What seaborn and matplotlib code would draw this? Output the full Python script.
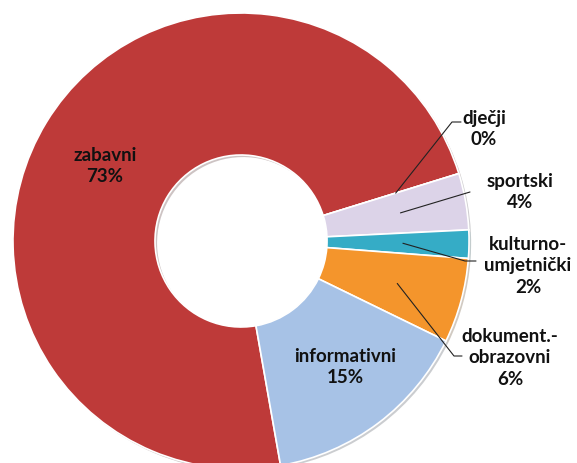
import numpy as np
import matplotlib
matplotlib.use("Agg")
import matplotlib.pyplot as plt
import matplotlib.patheffects as pe
import seaborn as sns

categories = ["zabavni", "dječji", "sportski", "kulturno-\numjetnički", "dokument.-\nobrazovni", "informativni"]
values = [73, 0, 4, 2, 6, 15]
pct_labels = ["73%", "0%", "4%", "2%", "6%", "15%"]
colors = ["#BE3A39", "#C9C3D6", "#DCD3E8", "#35ACC6", "#F4952C", "#A7C2E6"]
explode = [0.0, 0.04, 0.04, 0.04, 0.04, 0.045]

sns.set_theme(style="white")
plt.rcParams['font.family'] = ['Lato', 'DejaVu Sans']

fig = plt.figure(figsize=(5.77, 4.64), dpi=100)
ax = fig.add_axes([0, 0, 1, 1])

cx, cy, R = 241, 464 - 242, 228
hole = 86
wedges, _ = ax.pie(values, colors=colors, explode=explode, startangle=280,
                   counterclock=False, center=(cx, cy), radius=R,
                   wedgeprops=dict(width=R - hole, edgecolor="white", linewidth=1.2))
for w in wedges:
    w.set_path_effects([pe.SimplePatchShadow(offset=(1.5, -1.5), alpha=0.25), pe.Normal()])
ax.set_xlim(0, 577)
ax.set_ylim(0, 464)
ax.set_aspect("equal")
ax.axis("off")

fs = 13.5
# label positions in pixel coords (x, y from top)
label_pos = [(105, 166), (484, 129), (520, 192), (528, 266), (510, 358), (345, 367)]
for cat, pct, (lx, ly) in zip(categories, pct_labels, label_pos):
    ax.text(lx, 464 - ly, f"{cat}\n{pct}", ha="center", va="center",
            fontsize=fs, fontweight="bold", color="#111111", linespacing=1.32)

# leader lines: start inside wedge (computed from wedge geometry), end near label
leaders = {1: [(452, 123), (461, 123)], 2: [(470, 193)], 3: [(465, 262), (476, 262)],
           4: [(454, 357), (462, 357)]}
for i, pts in leaders.items():
    w = wedges[i]
    mid = np.deg2rad((w.theta1 + w.theta2) / 2)
    ccx, ccy = w.center
    r0 = R * 0.71
    sx, sy = ccx + r0 * np.cos(mid), ccy + r0 * np.sin(mid)
    xs = [sx] + [p[0] for p in pts]
    ys = [sy] + [464 - p[1] for p in pts]
    ax.plot(xs, ys, color="#222222", lw=0.8)

fig.savefig("out.png", dpi=100)
